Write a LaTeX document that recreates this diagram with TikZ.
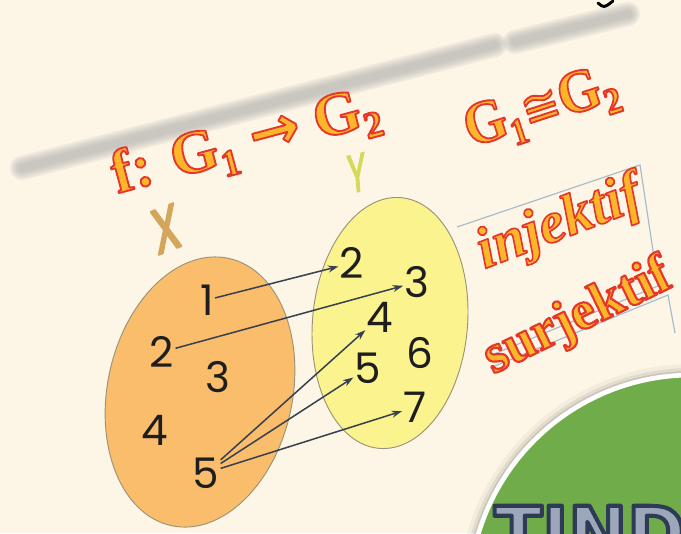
\documentclass[tikz,border=0pt]{standalone}
\usepackage{fontspec}
\setmainfont{Liberation Serif}
\setsansfont{Poppins}
\newfontfamily\symbfont{DejaVu Sans}
\newfontfamily\badgefont{DejaVu Sans}
\usetikzlibrary{arrows.meta, shapes.geometric}

\definecolor{paper}{HTML}{FDF6E7}
\definecolor{smudge}{HTML}{A8A8A8}
\definecolor{setorange}{HTML}{F9BD6C}
\definecolor{setyellow}{HTML}{FBF48E}
\definecolor{rimgray}{HTML}{9A9378}
\definecolor{arrowgray}{HTML}{394150}
\definecolor{digitink}{HTML}{1E1E1E}
\definecolor{wordfill}{HTML}{FDB52A}
\definecolor{labelx}{HTML}{D4A75C}
\definecolor{labely}{HTML}{D6D85A}
\definecolor{gridline}{HTML}{A9BACB}
\definecolor{badgegreen}{HTML}{70AD4A}
\definecolor{badgehatch}{HTML}{9CA7BB}

\newcommand{\strokeword}[3]{\special{pdf:literal direct 2 Tr #1 w 1 j #2 RG}#3\special{pdf:literal direct 0 Tr}}
\newcommand{\fancyword}[2][1.6]{{\color{wordfill}\strokeword{#1}{0.894 0.212 0.169}{#2}}}
\newcommand{\lowidx}[1]{\raisebox{-0.2em}{\fontsize{32}{32}\selectfont #1}}

\begin{document}
\begin{tikzpicture}[
    x=0.03cm, y=-0.03cm,
    >={Stealth[length=9pt,width=6pt]},
    every node/.style={inner sep=1pt},
    digit/.style={font=\fontsize{36}{36}\sffamily, text=digitink},
    setA/.style={ellipse, draw=rimgray, thick, fill=setorange, minimum width=5.55cm, minimum height=8.2cm},
    setB/.style={ellipse, draw=rimgray, thick, fill=setyellow, minimum width=4.65cm, minimum height=7.55cm},
    maps/.style={->, draw=arrowgray, line width=1.3pt},
    headline/.style={font=\fontsize{52}{52}\selectfont\bfseries, anchor=base},
    tableline/.style={draw=gridline, line width=1pt}
]
    \useasboundingbox (0,0) rectangle (681,533);
    \clip (0,0) rectangle (681,533);
    \fill[paper] (0,0) rectangle (681,533);

    \foreach \w in {24,20,16,12,8} {
        \draw[smudge, line width=\w*0.03cm, line cap=round, opacity=0.16] (22,168) -- (495,45);
        \draw[smudge, line width=\w*0.03cm, line cap=round, opacity=0.16] (515,42) -- (628,14);
    }
    \draw[black, line width=2.5pt, line cap=round] (598,3) .. controls (604,8) .. (613,1);

    \draw[tableline] (457,227) -- (640,165) -- (657,277);
    \draw[tableline] (487,357) -- (665,283);
    \draw[tableline] (490,368) -- (668,295) -- (675,333);

    \foreach \r/\o in {234/0.04, 230/0.07, 227/0.1} {
        \fill[black, opacity=\o] (692,598) circle [radius=\r];
    }
    \draw[white, line width=4pt, fill=badgegreen] (692,598) circle [radius=223];
    \node[anchor=base west, inner sep=0pt, font=\badgefont\fontsize{60}{60}\selectfont\bfseries, text=badgehatch] (badgeword) at (494,557)
        {\strokeword{3.5}{0.18 0.23 0.34}{TIND}};

    \node[setA, rotate=-12] (domain) at (200,392) {};
    \node[setB, rotate=-5] (codomain) at (390,323) {};

    \node[digit] (a1) at (207,300) {1};
    \node[digit] (a2) at (162,352) {2};
    \node[digit] (a3) at (218,377) {3};
    \node[digit] (a4) at (155,430) {4};
    \node[digit] (a5) at (206,473) {5};

    \node[digit] (b2) at (352,263) {2};
    \node[digit] (b3) at (417,282) {3};
    \node[digit] (b4) at (380,317) {4};
    \node[digit] (b5) at (368,368) {5};
    \node[digit] (b6) at (420,353) {6};
    \node[digit] (b7) at (415,407) {7};

    \draw[maps] (a1) -- (b2);
    \draw[maps] (a2) -- (b3);
    \draw[maps] (a5) -- (b4);
    \draw[maps] (a5) -- (b5);
    \draw[maps] (a5) -- (b7);

    \node[font=\fontsize{54}{54}\selectfont\sffamily, text=labelx, xscale=0.7, rotate=15] (xlabel) at (166,229) {\strokeword{2}{0.83 0.65 0.36}{X}};
    \node[font=\fontsize{46}{46}\selectfont\sffamily, text=labely, xscale=0.6, rotate=8] (ylabel) at (357,173) {\strokeword{1.2}{0.84 0.85 0.35}{Y}};

    \node[headline, rotate=15] (maptitle) at (250,158) {\fancyword{f: G\lowidx{1} {\symbfont\bfseries →} G\lowidx{2}}};
    \node[headline, rotate=18, xscale=0.9] (isotitle) at (546,123) {\fancyword{G\lowidx{1}{\symbfont\mdseries\fontsize{44}{44}\selectfont ≅}G\lowidx{2}}};

    \node[font=\fontsize{50}{50}\selectfont\bfseries\itshape, anchor=base, rotate=21] (injword) at (565,238) {\fancyword[1.4]{injektif}};
    \node[font=\fontsize{47}{47}\selectfont\bfseries, anchor=base, rotate=26] (surword) at (584,330) {\fancyword[1.8]{surjektif}};
\end{tikzpicture}
\end{document}
